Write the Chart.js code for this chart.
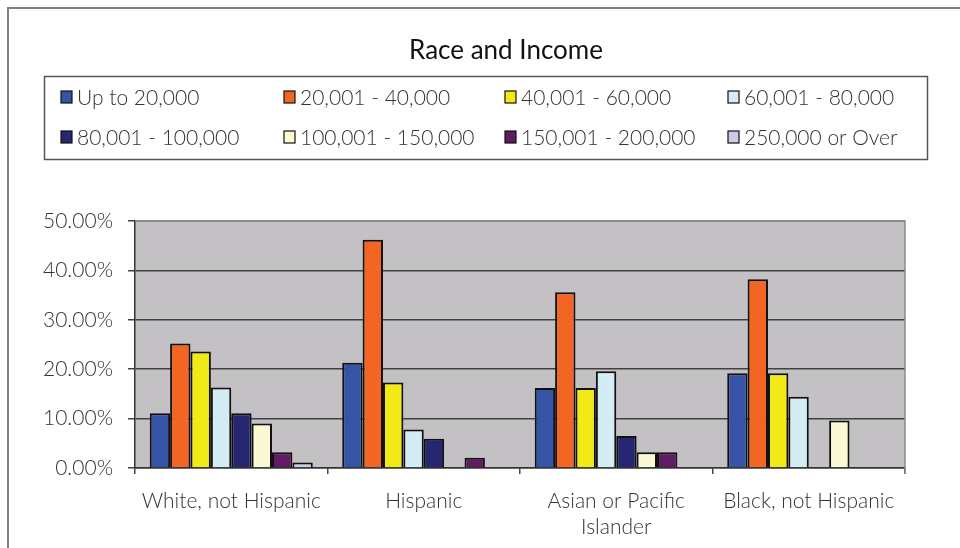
<!DOCTYPE html>
<html>
<head>
<meta charset="utf-8">
<title>Race and Income</title>
<script src="https://cdn.jsdelivr.net/npm/chart.js@4.4.1/dist/chart.umd.min.js"></script>
<style>
  html, body { margin: 0; padding: 0; background: #ffffff; }
  #wrap { width: 960px; height: 548px; }
</style>
</head>
<body>
<div id="wrap"><canvas id="chart" width="960" height="548"></canvas></div>
<script>
// Share of households in each income bracket, by race (percent)
const categories = ['White, not Hispanic', 'Hispanic', ['Asian or Pacific', 'Islander'], 'Black, not Hispanic'];
const seriesNames = ['Up to 20,000', '20,001 - 40,000', '40,001 - 60,000', '60,001 - 80,000',
                     '80,001 - 100,000', '100,001 - 150,000', '150,001 - 200,000', '250,000 or Over'];
const upTo20k      = [11.1, 21.3, 16.2, 19.2];
const from20to40k  = [25.2, 46.2, 35.6, 38.2];
const from40to60k  = [23.6, 17.3, 16.2, 19.2];
const from60to80k  = [16.3,  7.8, 19.6, 14.4];
const from80to100k = [11.1,  5.9,  6.5,  0];
const from100to150k= [ 9.0,  0,    3.2,  9.6];
const from150to200k= [ 3.2,  2.1,  3.2,  0];
const over250k     = [ 1.1,  0,    0,    0];
const yTicks = [0, 10, 20, 30, 40, 50];

const seriesValues = [upTo20k, from20to40k, from40to60k, from60to80k,
                      from80to100k, from100to150k, from150to200k, over250k];
const seriesColors = ['#3653a5', '#f26522', '#f2ea17', '#d4ecf3',
                      '#262672', '#fbf9d3', '#5f1c62', '#cdcbe6'];

const FONT = "'Lato', 'Open Sans', sans-serif";
const TEXT = '#333333';

// Frame, title, plot background and legend box drawn around the Chart.js plot
const decorations = {
  id: 'decorations',
  beforeDraw(chart) {
    const { ctx, chartArea: a } = chart;
    ctx.save();
    ctx.fillStyle = '#c3c1c4';
    ctx.fillRect(a.left, a.top, a.right - a.left, a.bottom - a.top);
    ctx.restore();
  },
  afterDraw(chart) {
    const { ctx, chartArea: a } = chart;
    ctx.save();
    // outer frame
    ctx.strokeStyle = '#808080';
    ctx.lineWidth = 2;
    ctx.beginPath();
    ctx.moveTo(8, 548); ctx.lineTo(8, 8); ctx.lineTo(960, 8);
    ctx.stroke();
    // plot border (top and right)
    ctx.strokeStyle = '#8a8a8a';
    ctx.lineWidth = 1.5;
    ctx.beginPath();
    ctx.moveTo(a.left, a.top); ctx.lineTo(a.right, a.top); ctx.lineTo(a.right, a.bottom + 6);
    ctx.stroke();
    // title
    ctx.fillStyle = '#111111';
    ctx.font = `400 26px ${FONT}`;
    ctx.textAlign = 'center';
    ctx.textBaseline = 'middle';
    ctx.fillText('Race and Income', 506, 51);
    // legend box
    ctx.strokeStyle = '#555555';
    ctx.lineWidth = 1.5;
    ctx.strokeRect(44.5, 76.5, 883, 83);
    const cols = [61, 284, 505, 728];
    const rows = [97, 137];
    ctx.font = `300 21px ${FONT}`;
    ctx.textAlign = 'left';
    chart.data.datasets.forEach((ds, i) => {
      const x = cols[i % 4], y = rows[Math.floor(i / 4)];
      ctx.fillStyle = ds.backgroundColor;
      ctx.fillRect(x, y - 6, 11, 12);
      ctx.strokeStyle = '#111111';
      ctx.lineWidth = 1.2;
      ctx.strokeRect(x, y - 6, 11, 12);
      ctx.fillStyle = TEXT;
      ctx.fillText(ds.label, x + 16, y + 1);
    });
    ctx.restore();
  }
};

new Chart(document.getElementById('chart'), {
  type: 'bar',
  data: {
    labels: categories,
    datasets: seriesNames.map((name, i) => ({
      label: name,
      data: seriesValues[i],
      backgroundColor: seriesColors[i],
      borderColor: '#111111',
      borderWidth: 2,
      borderSkipped: 'bottom'
    }))
  },
  options: {
    responsive: false,
    animation: false,
    layout: { padding: { top: 221, right: 55, left: 0, bottom: 0 } },
    plugins: { legend: { display: false }, title: { display: false }, tooltip: { enabled: false } },
    datasets: { bar: { categoryPercentage: 0.847, barPercentage: 1 } },
    scales: {
      x: {
        grid: { display: true, drawOnChartArea: false, tickLength: 6, color: '#444444', lineWidth: 1.5, offset: true },
        border: { display: true, color: '#333333', width: 1.5 },
        ticks: { color: TEXT, font: { family: FONT, size: 21, weight: '300', lineHeight: 1.25 }, padding: 14, maxRotation: 0, autoSkip: false },
        afterFit(scale) { scale.height = 80; }
      },
      y: {
        min: 0, max: 50,
        afterBuildTicks(scale) { scale.ticks = yTicks.map(v => ({ value: v })); },
        grid: {
          color: ctx => (ctx.tick && ctx.tick.value === 50) ? '#8a8a8a' : '#404040',
          tickColor: '#404040',
          lineWidth: 1.5,
          tickLength: 7
        },
        border: { display: true, color: '#333333', width: 1.5 },
        ticks: {
          color: TEXT,
          font: { family: FONT, size: 21, weight: '300' },
          padding: 15,
          callback: v => v.toFixed(2) + '%'
        },
        afterFit(scale) { scale.width = 135; }
      }
    }
  },
  plugins: [decorations]
});
</script>
</body>
</html>
